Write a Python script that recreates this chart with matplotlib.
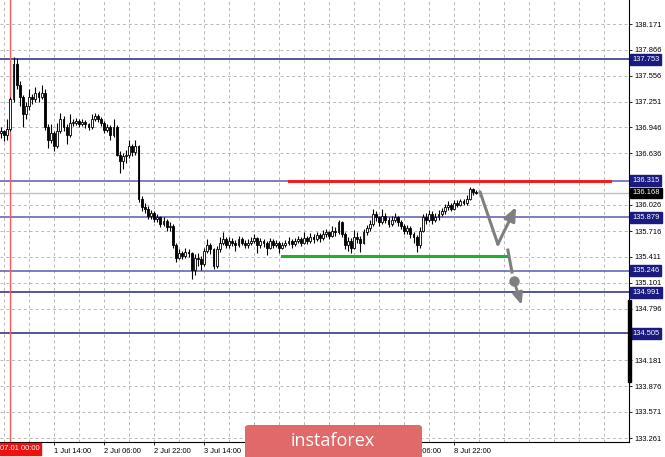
import matplotlib
matplotlib.use('Agg')
import matplotlib.pyplot as plt
from matplotlib.patches import FancyBboxPatch, Rectangle
import numpy as np

# USD/JPY H1 candles, first bar 2019.06.28 21:00
first_open = 136.88
closes = [136.90, 136.85, 136.93, 137.28, 137.70, 137.45, 137.30, 137.10, 137.20, 137.30,
          137.28, 137.35, 137.30, 137.35, 136.95, 136.80, 136.88, 136.72, 136.90, 137.05,
          136.95, 136.85, 137.00, 137.00, 137.02, 136.98, 137.01, 136.98, 136.95, 137.05,
          137.08, 137.05, 137.00, 136.92, 136.95, 136.85, 136.95, 136.62, 136.55, 136.60,
          136.62, 136.72, 136.65, 136.72, 136.10, 136.00, 135.98, 135.90, 135.93, 135.86,
          135.88, 135.80, 135.84, 135.76, 135.78, 135.55, 135.40, 135.45, 135.42, 135.47,
          135.45, 135.25, 135.40, 135.38, 135.32, 135.48, 135.55, 135.50, 135.30, 135.50,
          135.58, 135.62, 135.55, 135.60, 135.58, 135.55, 135.62, 135.58, 135.55, 135.58,
          135.60, 135.63, 135.55, 135.60, 135.57, 135.52, 135.60, 135.55, 135.58, 135.52,
          135.55, 135.57, 135.60, 135.56, 135.60, 135.62, 135.58, 135.63, 135.60, 135.65,
          135.62, 135.67, 135.63, 135.68, 135.70, 135.66, 135.72, 135.70, 135.82, 135.68,
          135.55, 135.60, 135.52, 135.65, 135.62, 135.58, 135.70, 135.75, 135.80, 135.92,
          135.88, 135.82, 135.90, 135.85, 135.80, 135.85, 135.88, 135.82, 135.78, 135.72,
          135.75, 135.68, 135.64, 135.55, 135.72, 135.88, 135.85, 135.92, 135.85, 135.88,
          135.92, 135.95, 136.00, 136.03, 135.98, 136.05, 136.03, 136.07, 136.05, 136.10,
          136.22, 136.18, 136.17]
highs = [136.95, 136.92, 137.05, 137.30, 137.78, 137.77, 137.50, 137.33, 137.25, 137.40,
         137.34, 137.42, 137.38, 137.45, 137.40, 136.98, 136.98, 136.90, 137.00, 137.12,
         137.08, 136.98, 137.10, 137.04, 137.06, 137.05, 137.04, 137.03, 137.00, 137.10,
         137.11, 137.10, 137.07, 137.02, 136.99, 136.97, 137.05, 136.97, 136.66, 136.64,
         136.68, 136.79, 136.75, 136.80, 136.74, 136.13, 136.05, 136.01, 135.97, 135.95,
         135.92, 135.90, 135.88, 135.86, 135.82, 135.80, 135.58, 135.50, 135.48, 135.51,
         135.50, 135.47, 135.44, 135.45, 135.42, 135.52, 135.62, 135.58, 135.52, 135.54,
         135.65, 135.70, 135.65, 135.64, 135.63, 135.61, 135.66, 135.65, 135.61, 135.62,
         135.64, 135.68, 135.65, 135.63, 135.62, 135.60, 135.63, 135.62, 135.61, 135.60,
         135.59, 135.61, 135.64, 135.62, 135.63, 135.66, 135.64, 135.70, 135.66, 135.69,
         135.68, 135.71, 135.69, 135.73, 135.74, 135.72, 135.78, 135.76, 135.85, 135.84,
         135.70, 135.65, 135.63, 135.73, 135.70, 135.66, 135.74, 135.79, 135.85, 135.98,
         135.95, 135.90, 135.98, 135.93, 135.88, 135.89, 135.93, 135.90, 135.85, 135.80,
         135.79, 135.77, 135.71, 135.67, 135.76, 135.92, 135.93, 135.97, 135.95, 135.93,
         135.96, 135.99, 136.04, 136.07, 136.05, 136.08, 136.08, 136.10, 136.09, 136.14,
         136.24, 136.23, 136.20]
lows = [136.82, 136.78, 136.80, 136.90, 137.25, 137.40, 137.20, 136.95, 137.05, 137.15,
        137.22, 137.25, 137.25, 137.28, 136.92, 136.70, 136.76, 136.66, 136.70, 136.88,
        136.90, 136.75, 136.83, 136.96, 136.97, 136.95, 136.96, 136.94, 136.91, 136.93,
        137.02, 137.01, 136.96, 136.88, 136.89, 136.80, 136.83, 136.60, 136.40, 136.45,
        136.52, 136.58, 136.60, 136.62, 136.06, 135.95, 135.93, 135.86, 135.86, 135.82,
        135.82, 135.76, 135.77, 135.72, 135.72, 135.52, 135.35, 135.38, 135.38, 135.40,
        135.41, 135.15, 135.20, 135.30, 135.25, 135.30, 135.45, 135.44, 135.27, 135.28,
        135.47, 135.55, 135.51, 135.52, 135.54, 135.48, 135.53, 135.55, 135.51, 135.52,
        135.55, 135.57, 135.45, 135.52, 135.53, 135.43, 135.50, 135.52, 135.53, 135.45,
        135.50, 135.53, 135.55, 135.52, 135.54, 135.57, 135.54, 135.56, 135.56, 135.58,
        135.58, 135.60, 135.59, 135.61, 135.65, 135.62, 135.64, 135.66, 135.68, 135.64,
        135.50, 135.48, 135.45, 135.50, 135.58, 135.47, 135.56, 135.67, 135.72, 135.78,
        135.84, 135.78, 135.80, 135.81, 135.76, 135.77, 135.82, 135.78, 135.74, 135.68,
        135.68, 135.63, 135.58, 135.47, 135.52, 135.70, 135.80, 135.82, 135.80, 135.82,
        135.85, 135.89, 135.92, 135.97, 135.95, 135.96, 136.00, 136.01, 136.02, 136.03,
        136.08, 136.14, 136.15]

# price axis
ytick_vals = [133.261, 133.571, 133.876, 134.181, 134.796, 135.101, 135.411, 135.716,
              136.026, 136.636, 136.946, 137.251, 137.556, 137.866, 138.171]
y_min, y_max = 133.214, 138.456

# time axis (bar index of each label); labels under the logo are hidden in the original
xtick_bars = [17, 33, 49, 65, 81, 97, 113, 129, 145]
xtick_labels = ['1 Jul 14:00', '2 Jul 06:00', '2 Jul 22:00', '3 Jul 14:00', '',
                '', '', '8 Jul 06:00', '8 Jul 22:00']
period_start_bar = 3
period_start_label = '07.01 00:00'

# support / resistance levels
dark_levels = [137.753, 134.991, 134.505]
light_levels = [136.315, 135.879, 135.246]
current_price = 136.168
red_level, red_span = 136.315, (92.2, 194.9)
green_level, green_span = 135.419, (89.9, 161.9)

# scenario arrows (bar index, price)
path_up_x = [153.3, 159.0, 164.8]
path_up_y = [136.18, 135.56, 136.00]
path_down_x = [162.2, 163.5, 164.2, 166.6]
path_down_y = [135.49, 135.23, 135.12, 134.84]

W, H = 665, 457
fig = plt.figure(figsize=(W / 100, H / 100), dpi=100)
fig.patch.set_facecolor('white')
ax = fig.add_axes([0, 15 / H, 629 / W, 442 / H])
ax.set_xlim(-0.32, 200.96)
ax.set_ylim(y_min, y_max)

# grid
for v in ytick_vals:
    ax.axhline(v, color='#b8b8b8', lw=0.7, ls=(0, (3, 3)), zorder=0)
for b in range(1, 201, 8):
    ax.axvline(b, color='#b8b8b8', lw=0.7, ls=(0, (3, 3)), zorder=0)

# levels
for v in dark_levels:
    ax.axhline(v, color='#26267e', lw=1.1, zorder=1)
for v in light_levels:
    ax.axhline(v, color='#5a5ab0', lw=1.1, zorder=1)
ax.axhline(current_price, color='#c0c0c0', lw=1.0, zorder=1)
ax.axvline(period_start_bar, color='#ff5a5a', lw=1.0, zorder=1)

# candles
opens = [first_open] + closes[:-1]
x = np.arange(len(closes))
o = np.array(opens)
c = np.array(closes)
ax.vlines(x, lows, highs, color='black', lw=0.8, zorder=3)
bull = c >= o
body = np.maximum(np.abs(c - o), 0.012)
ax.bar(x[bull], body[bull], bottom=o[bull], width=0.62, color='white',
       edgecolor='black', lw=0.6, zorder=4)
ax.bar(x[~bull], body[~bull], bottom=c[~bull], width=0.62, color='black',
       edgecolor='black', lw=0.6, zorder=4)

ax.plot(red_span, [red_level, red_level], color='#f02020', lw=2.2, zorder=5)
ax.plot(green_span, [green_level, green_level], color='#20b030', lw=2.2, zorder=5)

# forecast arrows
gray = '#7f7f7f'
ax.plot(path_up_x[:2], path_up_y[:2], color=gray, lw=2.2, zorder=6,
        solid_capstyle='round', solid_joinstyle='round')
ax.annotate('', xy=(path_up_x[2], path_up_y[2]), xytext=(path_up_x[1], path_up_y[1]),
            arrowprops=dict(arrowstyle='-|>,head_length=0.8,head_width=0.35',
                            color=gray, lw=2.2, shrinkA=0, shrinkB=0), zorder=6)
ax.plot(path_down_x[:2], path_down_y[:2], color=gray, lw=2.2, zorder=6)
ax.plot(path_down_x[2], path_down_y[2], 'o', color=gray, ms=6.5, zorder=6)
ax.annotate('', xy=(path_down_x[3], path_down_y[3]), xytext=(path_down_x[2], path_down_y[2]),
            arrowprops=dict(arrowstyle='-|>,head_length=0.7,head_width=0.3',
                            color=gray, lw=2.0, shrinkA=0, shrinkB=0), zorder=6)

# axes frame
for s in ['top', 'left']:
    ax.spines[s].set_visible(False)
ax.spines['right'].set_color('black')
ax.spines['bottom'].set_color('black')
ax.spines['right'].set_linewidth(0.8)
ax.spines['bottom'].set_linewidth(0.8)
ax.yaxis.tick_right()
ax.set_yticks(ytick_vals)
ax.set_yticklabels([f'{v:.3f}' for v in ytick_vals], fontsize=5.4, family='Liberation Sans')
ax.tick_params(axis='y', length=2.5, width=0.6, pad=1.2, colors='black')
ax.set_xticks(xtick_bars)
ax.set_xticklabels(xtick_labels, fontsize=5.4, ha='left', family='Liberation Sans')
ax.tick_params(axis='x', length=2.5, width=0.6, pad=1.5)

# price labels on the right
def price_box(v, fc):
    ax.annotate(f'{v:.3f}', xy=(1.0, v), xycoords=('axes fraction', 'data'),
                xytext=(2.4, 0), textcoords='offset points', fontsize=5.4,
                family='Liberation Sans', color='white', va='center', ha='left',
                zorder=10, annotation_clip=False,
                bbox=dict(boxstyle='square,pad=0.25', fc=fc, ec=fc))

for v in dark_levels:
    price_box(v, '#1a1a80')
for v in light_levels:
    price_box(v, '#1a1a80')
price_box(current_price, 'black')

# scroll marker at right edge
fig.add_artist(Rectangle((628 / W, (H - 382) / H), 2.5 / W, 82 / H,
                         transform=fig.transFigure, color='black', zorder=10))

# period start label
fig.add_artist(Rectangle((0, (H - 455) / H), 41 / W, 12 / H,
                         transform=fig.transFigure, color='#ee1111', zorder=10))
fig.text(40 / W, (H - 449) / H, period_start_label, color='white', fontsize=5.4,
         family='Liberation Sans', ha='right', va='center', zorder=11)

# watermark
fig.add_artist(FancyBboxPatch((245 / W, -5 / H), 177 / W, 37 / H,
                              boxstyle='round,pad=0,rounding_size=0.006',
                              transform=fig.transFigure, fc='#e06a6a', ec='none', zorder=12))
fig.text(333 / W, (H - 441) / H, 'instaforex', color='white', fontsize=13,
         family='Open Sans', ha='center', va='center', zorder=13)

fig.savefig('out.png', dpi=100)
